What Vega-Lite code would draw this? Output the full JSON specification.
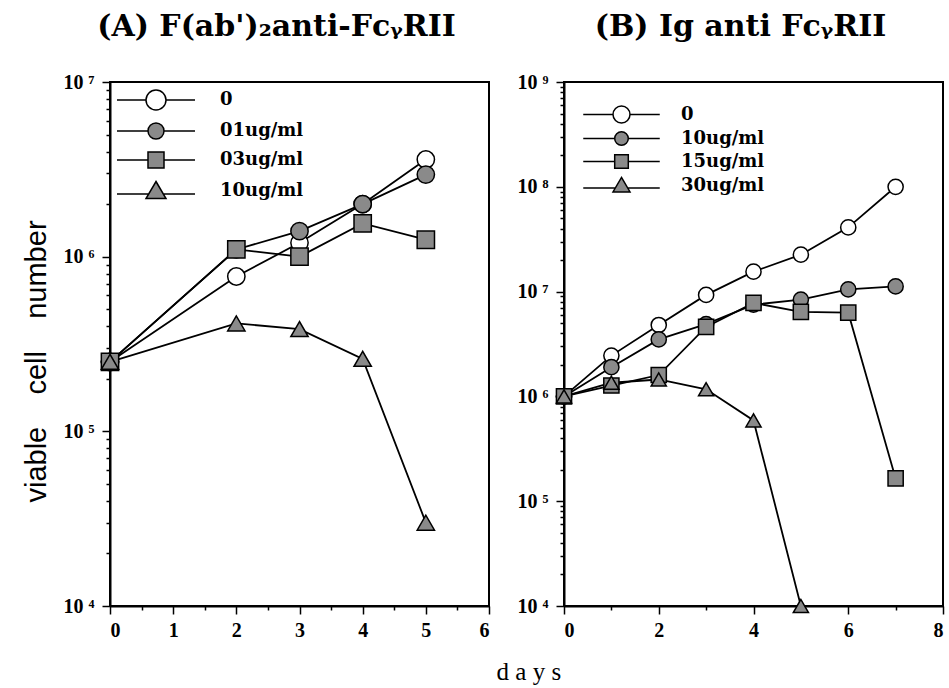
{
  "$schema": "https://vega.github.io/schema/vega-lite/v6.json",
  "background": "white",
  "padding": {"left": 21, "top": 11, "right": 5, "bottom": 0},
  "datasets": {
    "a": [
      {"day": 0, "cells": 250000, "series": "0"},
      {"day": 2, "cells": 770000, "series": "0"},
      {"day": 3, "cells": 1200000, "series": "0"},
      {"day": 4, "cells": 2000000, "series": "0"},
      {"day": 5, "cells": 3600000, "series": "0"},
      {"day": 0, "cells": 250000, "series": "01ug/ml"},
      {"day": 2, "cells": 1100000, "series": "01ug/ml"},
      {"day": 3, "cells": 1400000, "series": "01ug/ml"},
      {"day": 4, "cells": 2000000, "series": "01ug/ml"},
      {"day": 5, "cells": 2950000, "series": "01ug/ml"},
      {"day": 0, "cells": 250000, "series": "03ug/ml"},
      {"day": 2, "cells": 1100000, "series": "03ug/ml"},
      {"day": 3, "cells": 1000000, "series": "03ug/ml"},
      {"day": 4, "cells": 1550000, "series": "03ug/ml"},
      {"day": 5, "cells": 1250000, "series": "03ug/ml"},
      {"day": 0, "cells": 250000, "series": "10ug/ml"},
      {"day": 2, "cells": 415000, "series": "10ug/ml"},
      {"day": 3, "cells": 385000, "series": "10ug/ml"},
      {"day": 4, "cells": 260000, "series": "10ug/ml"},
      {"day": 5, "cells": 30000, "series": "10ug/ml"}
    ],
    "b": [
      {"day": 0, "cells": 1000000, "series": "0"},
      {"day": 1, "cells": 2450000, "series": "0"},
      {"day": 2, "cells": 4800000, "series": "0"},
      {"day": 3, "cells": 9300000, "series": "0"},
      {"day": 4, "cells": 15500000, "series": "0"},
      {"day": 5, "cells": 22500000, "series": "0"},
      {"day": 6, "cells": 41000000, "series": "0"},
      {"day": 7, "cells": 100000000, "series": "0"},
      {"day": 0, "cells": 1000000, "series": "10ug/ml"},
      {"day": 1, "cells": 1900000, "series": "10ug/ml"},
      {"day": 2, "cells": 3500000, "series": "10ug/ml"},
      {"day": 3, "cells": 4900000, "series": "10ug/ml"},
      {"day": 4, "cells": 7500000, "series": "10ug/ml"},
      {"day": 5, "cells": 8400000, "series": "10ug/ml"},
      {"day": 6, "cells": 10500000, "series": "10ug/ml"},
      {"day": 7, "cells": 11200000, "series": "10ug/ml"},
      {"day": 0, "cells": 1000000, "series": "15ug/ml"},
      {"day": 1, "cells": 1270000, "series": "15ug/ml"},
      {"day": 2, "cells": 1600000, "series": "15ug/ml"},
      {"day": 3, "cells": 4600000, "series": "15ug/ml"},
      {"day": 4, "cells": 7800000, "series": "15ug/ml"},
      {"day": 5, "cells": 6400000, "series": "15ug/ml"},
      {"day": 6, "cells": 6300000, "series": "15ug/ml"},
      {"day": 7, "cells": 165000, "series": "15ug/ml"},
      {"day": 0, "cells": 1000000, "series": "30ug/ml"},
      {"day": 1, "cells": 1350000, "series": "30ug/ml"},
      {"day": 2, "cells": 1450000, "series": "30ug/ml"},
      {"day": 3, "cells": 1170000, "series": "30ug/ml"},
      {"day": 4, "cells": 590000, "series": "30ug/ml"},
      {"day": 5, "cells": 10000, "series": "30ug/ml"}
    ]
  },
  "config": {
    "view": {"stroke": "black", "strokeWidth": 2},
    "axis": {
      "grid": false,
      "domainColor": "black",
      "domainWidth": 2,
      "tickColor": "black",
      "tickWidth": 1.5,
      "labelFont": "Liberation Serif",
      "labelFontWeight": "bold",
      "labelFontSize": 20,
      "labelColor": "black",
      "labelOverlap": false,
      "titleColor": "black"
    },
    "legend": {
      "labelFont": "DejaVu Serif",
      "labelFontWeight": "bold",
      "labelFontSize": 18,
      "labelColor": "black",
      "padding": 0
    },
    "title": {
      "font": "DejaVu Serif",
      "fontWeight": "bold",
      "fontSize": 30,
      "color": "black"
    }
  },
  "title": {
    "text": "d a y s",
    "orient": "bottom",
    "anchor": "middle",
    "font": "Liberation Serif",
    "fontWeight": "normal",
    "fontSize": 25,
    "offset": 19,
    "dx": 46
  },
  "spacing": 25,
  "resolve": {"scale": {"shape": "independent", "fill": "independent"}},
  "hconcat": [
    {
      "width": 379,
      "height": 524,
      "title": {"text": "(A) F(ab')₂anti-FcᵧRII", "anchor": "middle", "dx": -23, "offset": 30},
      "data": {"name": "a"},
      "encoding": {
        "x": {
          "field": "day", "type": "quantitative",
          "scale": {"domain": [0, 6], "nice": false, "zero": false},
          "axis": {
            "title": null,
            "values": [0, 0.5, 1, 1.5, 2, 2.5, 3, 3.5, 4, 4.5, 5, 5.5, 6],
            "labelExpr": "datum.value % 1 == 0 ? format(datum.value, 'd') : ''",
            "tickSize": {"condition": {"test": "datum.value % 1 == 0", "value": 8}, "value": 4},
            "labelPadding": 6
          }
        },
        "y": {
          "field": "cells", "type": "quantitative",
          "scale": {"type": "log", "domain": [10000, 10000000], "nice": false},
          "axis": {
            "title": "viable\u00a0\u00a0\u00a0\u00a0cell\u00a0\u00a0\u00a0\u00a0number",
            "titleFont": "Liberation Sans",
            "titleFontWeight": "normal",
            "titleFontSize": 29,
            "titlePadding": 12,
            "titleY": 279,
            "values": [10000, 20000, 30000, 40000, 50000, 60000, 70000, 80000, 90000, 100000, 200000, 300000, 400000, 500000, 600000, 700000, 800000, 900000, 1000000, 2000000, 3000000, 4000000, 5000000, 6000000, 7000000, 8000000, 9000000, 10000000],
            "labelExpr": "datum.value==10000?'10 ⁴':datum.value==100000?'10 ⁵':datum.value==1000000?'10 ⁶':datum.value==10000000?'10 ⁷':''",
            "tickSize": {"condition": {"test": "abs(log(datum.value)/LN10-round(log(datum.value)/LN10))<0.001", "value": 8}, "value": 4},
            "labelPadding": 8
          }
        }
      },
      "layer": [
        {
          "mark": {"type": "line", "color": "black", "strokeWidth": 1.8},
          "encoding": {"detail": {"field": "series"}}
        },
        {
          "mark": {"type": "point", "filled": true, "size": 0, "stroke": "black", "strokeWidth": 1.6, "opacity": 1},
          "encoding": {
            "shape": {"field": "series", "type": "nominal", "scale": {"domain": ["0", "01ug/ml", "03ug/ml", "10ug/ml"], "range": [
              "M-3.9,0H-1M1,0H3.9M1,0A1,1,0,1,1,-1,0A1,1,0,1,1,1,0Z",
              "M-3.9,0H-0.8M0.8,0H3.9M0.8,0A0.8,0.8,0,1,1,-0.8,0A0.8,0.8,0,1,1,0.8,0Z",
              "M-3.9,0H-0.8M0.8,0H3.9M-0.8,-0.8H0.8V0.8H-0.8Z",
              "M-3.9,0.3H-0.75M0.75,0.3H3.9M0,-0.95L1,0.75H-1Z"
            ]}, "legend": {"title": null, "orient": "none", "legendX": 35, "legendY": 7, "symbolSize": 400, "symbolOpacity": 1, "labelOffset": 53, "rowPadding": 7, "encode": {"symbols": {"update": {"stroke": {"value": "black"}, "strokeWidth": {"value": 1.6}, "opacity": {"value": 1}, "fillOpacity": {"value": 1}, "size": {"value": 400}, "fill": {"signal": "datum.value == '0' ? 'white' : '#8a8a8a'"}}}}}},
            "fill": {"field": "series", "type": "nominal", "scale": {"domain": ["0", "01ug/ml", "03ug/ml", "10ug/ml"], "range": ["white", "#8a8a8a", "#8a8a8a", "#8a8a8a"]}, "legend": {"title": null, "orient": "none", "legendX": 35, "legendY": 7, "symbolSize": 400, "symbolOpacity": 1, "labelOffset": 53, "rowPadding": 7, "encode": {"symbols": {"update": {"stroke": {"value": "black"}, "strokeWidth": {"value": 1.6}, "opacity": {"value": 1}, "fillOpacity": {"value": 1}, "size": {"value": 400}, "fill": {"signal": "datum.value == '0' ? 'white' : '#8a8a8a'"}}}}}}
          }
        },
        {
          "mark": {"type": "point", "filled": true, "size": 300, "stroke": "black", "strokeWidth": 1.5, "opacity": 1},
          "encoding": {
            "shape": {"condition": [{"test": "datum.series == '03ug/ml'", "value": "square"}, {"test": "datum.series == '10ug/ml'", "value": "triangle-up"}], "value": "circle"},
            "fill": {"condition": {"test": "datum.series == '0'", "value": "white"}, "value": "#8a8a8a"}
          }
        }
      ]
    },
    {
      "width": 379,
      "height": 524,
      "title": {"text": "(B) Ig anti FcᵧRII", "anchor": "middle", "dx": -13, "offset": 30},
      "data": {"name": "b"},
      "encoding": {
        "x": {
          "field": "day", "type": "quantitative",
          "scale": {"domain": [0, 8], "nice": false, "zero": false},
          "axis": {
            "title": null,
            "values": [0, 1, 2, 3, 4, 5, 6, 7, 8],
            "labelExpr": "datum.value % 2 == 0 ? format(datum.value, 'd') : ''",
            "tickSize": {"condition": {"test": "datum.value % 2 == 0", "value": 8}, "value": 4},
            "labelPadding": 6
          }
        },
        "y": {
          "field": "cells", "type": "quantitative",
          "scale": {"type": "log", "domain": [10000, 1000000000], "nice": false},
          "axis": {
            "title": null,
            "values": [10000, 20000, 30000, 40000, 50000, 60000, 70000, 80000, 90000, 100000, 200000, 300000, 400000, 500000, 600000, 700000, 800000, 900000, 1000000, 2000000, 3000000, 4000000, 5000000, 6000000, 7000000, 8000000, 9000000, 10000000, 20000000, 30000000, 40000000, 50000000, 60000000, 70000000, 80000000, 90000000, 100000000, 200000000, 300000000, 400000000, 500000000, 600000000, 700000000, 800000000, 900000000, 1000000000],
            "labelExpr": "datum.value==10000?'10 ⁴':datum.value==100000?'10 ⁵':datum.value==1000000?'10 ⁶':datum.value==10000000?'10 ⁷':datum.value==100000000?'10 ⁸':datum.value==1000000000?'10 ⁹':''",
            "tickSize": {"condition": {"test": "abs(log(datum.value)/LN10-round(log(datum.value)/LN10))<0.001", "value": 8}, "value": 4},
            "labelPadding": 8
          }
        }
      },
      "layer": [
        {
          "mark": {"type": "line", "color": "black", "strokeWidth": 1.8},
          "encoding": {"detail": {"field": "series"}}
        },
        {
          "mark": {"type": "point", "filled": true, "size": 0, "stroke": "black", "strokeWidth": 1.6, "opacity": 1},
          "encoding": {
            "shape": {"field": "series", "type": "nominal", "scale": {"domain": ["0", "10ug/ml", "15ug/ml", "30ug/ml"], "range": [
              "M-4.5,0H-1M1,0H4.5M1,0A1,1,0,1,1,-1,0A1,1,0,1,1,1,0Z",
              "M-4.5,0H-0.8M0.8,0H4.5M0.8,0A0.8,0.8,0,1,1,-0.8,0A0.8,0.8,0,1,1,0.8,0Z",
              "M-4.5,0H-0.8M0.8,0H4.5M-0.8,-0.8H0.8V0.8H-0.8Z",
              "M-4.5,0.3H-0.75M0.75,0.3H4.5M0,-0.95L1,0.75H-1Z"
            ]}, "legend": {"title": null, "orient": "none", "legendX": 48, "legendY": 23, "symbolSize": 289, "symbolOpacity": 1, "labelOffset": 50, "rowPadding": 2, "encode": {"symbols": {"update": {"stroke": {"value": "black"}, "strokeWidth": {"value": 1.6}, "opacity": {"value": 1}, "fillOpacity": {"value": 1}, "size": {"value": 289}, "fill": {"signal": "datum.value == '0' ? 'white' : '#8a8a8a'"}}}}}},
            "fill": {"field": "series", "type": "nominal", "scale": {"domain": ["0", "10ug/ml", "15ug/ml", "30ug/ml"], "range": ["white", "#8a8a8a", "#8a8a8a", "#8a8a8a"]}, "legend": {"title": null, "orient": "none", "legendX": 48, "legendY": 23, "symbolSize": 289, "symbolOpacity": 1, "labelOffset": 50, "rowPadding": 2, "encode": {"symbols": {"update": {"stroke": {"value": "black"}, "strokeWidth": {"value": 1.6}, "opacity": {"value": 1}, "fillOpacity": {"value": 1}, "size": {"value": 289}, "fill": {"signal": "datum.value == '0' ? 'white' : '#8a8a8a'"}}}}}}
          }
        },
        {
          "mark": {"type": "point", "filled": true, "size": 230, "stroke": "black", "strokeWidth": 1.5, "opacity": 1},
          "encoding": {
            "shape": {"condition": [{"test": "datum.series == '15ug/ml'", "value": "square"}, {"test": "datum.series == '30ug/ml'", "value": "triangle-up"}], "value": "circle"},
            "fill": {"condition": {"test": "datum.series == '0'", "value": "white"}, "value": "#8a8a8a"}
          }
        }
      ]
    }
  ]
}
